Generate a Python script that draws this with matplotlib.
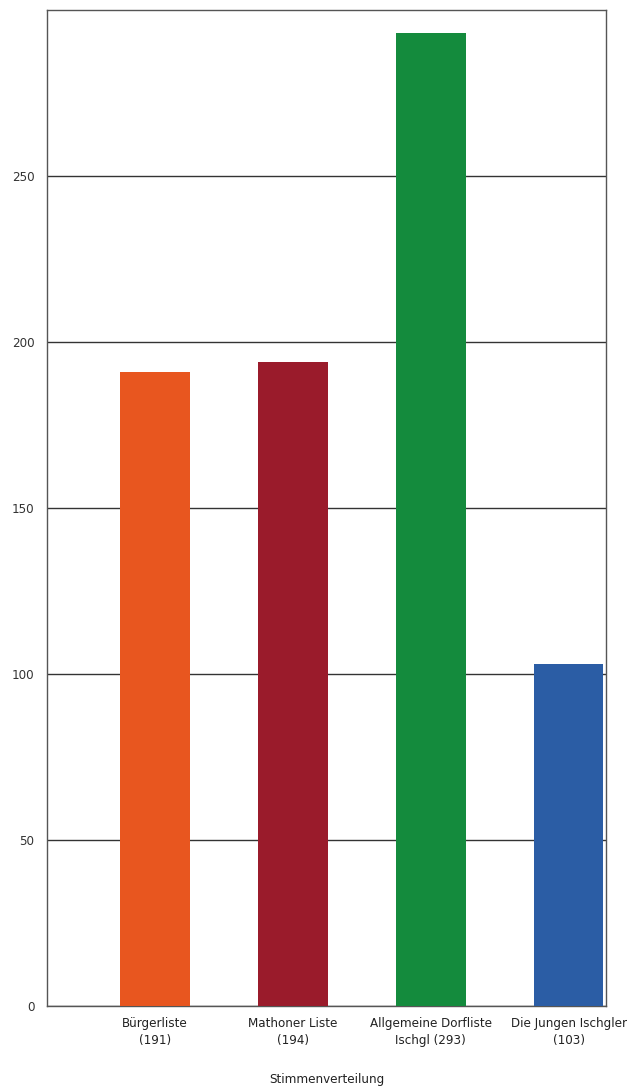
import matplotlib.pyplot as plt

parteien = ['Bürgerliste\n(191)', 'Mathoner Liste\n(194)',
            'Allgemeine Dorfliste\nIschgl (293)', 'Die Jungen Ischgler\n(103)']
stimmen = [191, 194, 293, 103]
farben = ['#E8561F', '#9A1B2B', '#148B3D', '#2B5DA5']
y_ticks = [0, 50, 100, 150, 200, 250]

plt.rcParams['font.family'] = ['DejaVu Sans']
plt.rcParams['font.stretch'] = 'condensed'

fig = plt.figure(figsize=(6.28, 10.89), dpi=100)
ax = fig.add_axes([0.0748, 0.0762, 0.8902, 0.9146])

x = range(len(stimmen))
ax.bar(x, stimmen, width=0.507, color=farben, zorder=3)

ax.set_xlim(-0.783, 3.272)
ax.set_ylim(0, 300)
ax.set_yticks(y_ticks)
ax.set_yticklabels([str(v) for v in y_ticks], fontsize=9.5, color='#333333')
ax.set_xticks(list(x))
ax.set_xticklabels(parteien, fontsize=9.5, color='#222222', linespacing=1.35)
ax.tick_params(length=0, pad=9)
ax.tick_params(axis='x', pad=8)
ax.grid(axis='y', color='#333333', linewidth=1.0, zorder=0)
for s in ax.spines.values():
    s.set_color('#555555')
    s.set_linewidth(1.0)

ax.set_xlabel('Stimmenverteilung', fontsize=9.5, color='#222222', labelpad=19)

fig.savefig('out.png', dpi=100)
